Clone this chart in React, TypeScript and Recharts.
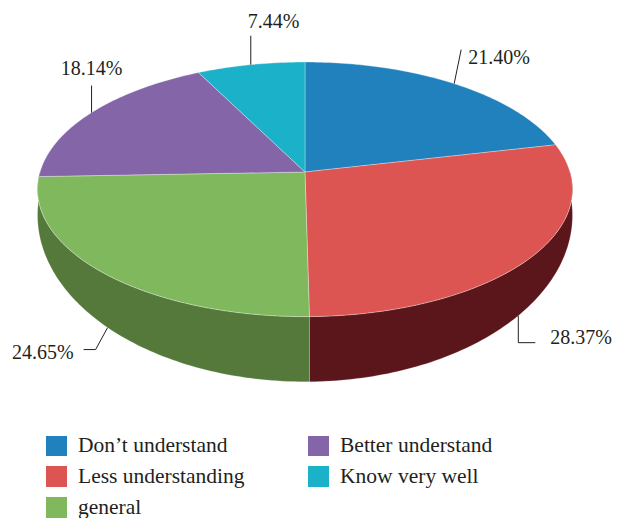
import React from 'react';
import { PieChart, Pie, Legend } from 'recharts';

// survey answers, share of respondents in %
const CATEGORIES = ['Don’t understand', 'Less understanding', 'general', 'Better understand', 'Know very well'];
const VALUES = [21.40, 28.37, 24.65, 18.14, 7.44];
const COLORS = ['#2081bd', '#dc5552', '#80b95d', '#8466a8', '#1bb1c9'];
const SIDE_COLORS = ['#155a85', '#5b161b', '#55793b', '#5a4677', '#127c8d'];

// fake 3D: perspective squash of the top disc and the bottom disc
const TILT = 0.4714;
const PERSP = 0.136;
const BOTTOM_TILT = 0.617;
const BOTTOM_DROP = 20.5;

const FONT = '"Liberation Serif", "Times New Roman", serif';
const INK = '#231f20';

// leader line layout per label, relative to the anchor on the pie edge
const LABEL_LAYOUT = [
    { face: 'top', nudge: 0, leader: [[7, -34]], dx: 7, dy: 7, anchor: 'start' },
    { face: 'bottom', nudge: 5, leader: [[0, 27], [17, 27]], dx: 15, dy: -6, anchor: 'start' },
    { face: 'bottom', nudge: -1.5, leader: [[-12, 22], [-24, 22]], dx: -10, dy: 2, anchor: 'end' },
    { face: 'top', nudge: 0, leader: [[0, -27]], dx: 0, dy: -18, anchor: 'middle' },
    { face: 'top', nudge: 0, leader: [[0, -29]], dx: -3, dy: -15, anchor: 'start' },
];

const data = CATEGORIES.map((name, i) => ({
    name,
    value: VALUES[i],
    fill: COLORS[i],
    side: SIDE_COLORS[i],
}));

const project = (cx: number, cy: number, r: number, theta: number, face: string) => {
    const rad = (theta * Math.PI) / 180;
    const u = Math.sin(rad);
    const v = Math.cos(rad);
    const w = 1 + PERSP * v;
    const x = cx + (r * u) / w;
    const y = face === 'top'
        ? cy - (r * TILT * v) / w
        : cy + BOTTOM_DROP - (r * BOTTOM_TILT * v) / w;
    return [x, y];
};

const arc = (cx: number, cy: number, r: number, a: number, b: number, face: string) => {
    const pts: number[][] = [];
    const steps = Math.max(2, Math.ceil(Math.abs(b - a)));
    for (let i = 0; i <= steps; i++) {
        pts.push(project(cx, cy, r, a + ((b - a) * i) / steps, face));
    }
    return pts;
};

const TopShape = (props: any) => {
    const { cx, cy, outerRadius, startAngle, endAngle, fill } = props;
    const t1 = 90 - startAngle;
    const t2 = 90 - endAngle;
    const pts = arc(cx, cy, outerRadius, t1, t2, 'top');
    const d = `M${cx},${cy} ` + pts.map(p => `L${p[0].toFixed(2)},${p[1].toFixed(2)}`).join(' ') + ' Z';
    return <path d={d} fill={fill} stroke="#ffffff" strokeOpacity={0.45} strokeWidth={0.7} strokeLinejoin="round" />;
};

const SideShape = (props: any) => {
    const { cx, cy, outerRadius, startAngle, endAngle } = props;
    const side = props.side ?? props.payload?.side;
    const a = Math.max(90 - startAngle, 90);
    const b = Math.min(90 - endAngle, 270);
    if (a >= b) return <g />;
    const top = arc(cx, cy, outerRadius, a, b, 'top');
    const bottom = arc(cx, cy, outerRadius, b, a, 'bottom');
    const d = [...top, ...bottom]
        .map((p, i) => `${i === 0 ? 'M' : 'L'}${p[0].toFixed(2)},${p[1].toFixed(2)}`)
        .join(' ') + ' Z';
    return <path d={d} fill={side} stroke="#ffffff" strokeOpacity={0.3} strokeWidth={0.6} />;
};

const renderLabel = (props: any) => {
    const { cx, cy, outerRadius, midAngle, index } = props;
    const layout = LABEL_LAYOUT[index];
    const value = props.value ?? props.payload?.value ?? VALUES[index];
    const theta = 90 - midAngle + layout.nudge;
    const [ax, ay] = project(cx, cy, outerRadius, theta, layout.face);
    const pts = [[ax, ay], ...layout.leader.map(([dx, dy]) => [ax + dx, ay + dy])];
    const end = pts[pts.length - 1];
    return (
        <g>
            <polyline
                points={pts.map(p => `${p[0]},${p[1]}`).join(' ')}
                fill="none"
                stroke={INK}
                strokeWidth={1}
            />
            <text
                x={end[0] + layout.dx}
                y={end[1] + layout.dy}
                textAnchor={layout.anchor}
                dominantBaseline="central"
                fontFamily={FONT}
                fontSize={20}
                fill={INK}
            >
                {`${Number(value).toFixed(2)}%`}
            </text>
        </g>
    );
};

// legend in data order, filled column by column (3 rows)
const renderLegend = () => (
    <div
        style={{
            display: 'grid',
            gridAutoFlow: 'column',
            gridTemplateRows: 'repeat(3, 30.7px)',
            gridTemplateColumns: '262px 250px',
            fontFamily: FONT,
            fontSize: 21.5,
            color: INK,
        }}
    >
        {data.map(entry => (
            <div key={entry.name} style={{ display: 'flex', alignItems: 'center', height: 30.7 }}>
                <span style={{ width: 20.5, height: 20.5, background: entry.fill, marginRight: 11.5, flex: 'none' }} />
                <span style={{ whiteSpace: 'nowrap', lineHeight: 1 }}>{entry.name}</span>
            </div>
        ))}
    </div>
);

export default function App() {
    return (
        <div style={{ position: 'absolute', left: 0, top: 0, width: 626, height: 518, background: '#ffffff' }}>
            <PieChart width={626} height={518} margin={{ top: 0, right: 0, bottom: 0, left: 0 }}>
                <Pie
                    data={data}
                    dataKey="value"
                    nameKey="name"
                    cx={305}
                    cy={172}
                    outerRadius={265}
                    startAngle={90}
                    endAngle={-270}
                    stroke="none"
                    legendType="none"
                    isAnimationActive={false}
                    shape={SideShape}
                    activeShape={SideShape}
                    inactiveShape={SideShape}
                />
                <Pie
                    data={data}
                    dataKey="value"
                    nameKey="name"
                    cx={305}
                    cy={172}
                    outerRadius={265}
                    startAngle={90}
                    endAngle={-270}
                    stroke="none"
                    legendType="square"
                    isAnimationActive={false}
                    shape={TopShape}
                    activeShape={TopShape}
                    inactiveShape={TopShape}
                    label={renderLabel}
                    labelLine={false}
                />
                <Legend
                    content={renderLegend}
                    wrapperStyle={{ left: 46, top: 430.6, width: 560, bottom: 'auto' }}
                />
            </PieChart>
        </div>
    );
}
